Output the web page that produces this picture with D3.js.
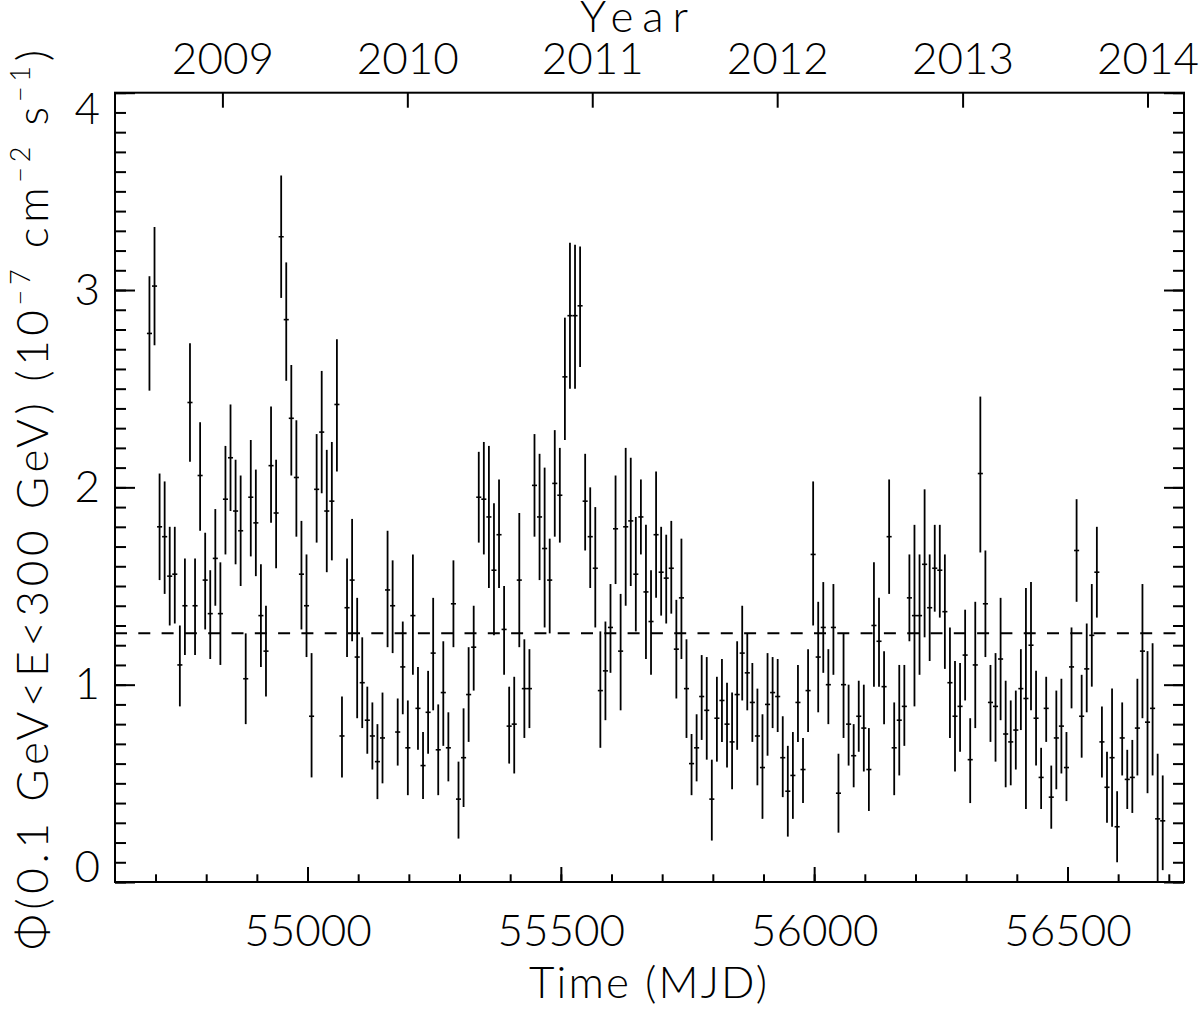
<!DOCTYPE html>
<html>
<head>
<meta charset="utf-8">
<script src="https://cdn.jsdelivr.net/npm/d3@7"></script>
<style>
  body { margin: 0; background: #fff; }
  svg text { font-family: Lato, "Open Sans", sans-serif; font-weight: 300; fill: #000; }
</style>
</head>
<body>
<div id="chart"></div>
<script>
// 10-day bins, bin centres in MJD
const mjd = [
  54688, 54698, 54708, 54718, 54728, 54738, 54748, 54758, 54768, 54778,
  54788, 54798, 54808, 54818, 54828, 54838, 54848, 54858, 54868, 54878,
  54888, 54898, 54908, 54918, 54928, 54938, 54948, 54958, 54968, 54978,
  54988, 54998, 55008, 55018, 55028, 55038, 55048, 55058, 55068, 55078,
  55088, 55098, 55108, 55118, 55128, 55138, 55148, 55158, 55168, 55178,
  55188, 55198, 55208, 55218, 55228, 55238, 55248, 55258, 55268, 55278,
  55288, 55298, 55308, 55318, 55328, 55338, 55348, 55358, 55368, 55378,
  55388, 55398, 55408, 55418, 55428, 55438, 55448, 55458, 55468, 55478,
  55488, 55498, 55508, 55518, 55528, 55538, 55548, 55558, 55568, 55578,
  55588, 55598, 55608, 55618, 55628, 55638, 55648, 55658, 55668, 55678,
  55688, 55698, 55708, 55718, 55728, 55738, 55748, 55758, 55768, 55778,
  55788, 55798, 55808, 55818, 55828, 55838, 55848, 55858, 55868, 55878,
  55888, 55898, 55908, 55918, 55928, 55938, 55948, 55958, 55968, 55978,
  55988, 55998, 56008, 56018, 56028, 56038, 56048, 56058, 56068, 56078,
  56088, 56098, 56108, 56118, 56128, 56138, 56148, 56158, 56168, 56178,
  56188, 56198, 56208, 56218, 56228, 56238, 56248, 56258, 56268, 56278,
  56288, 56298, 56308, 56318, 56328, 56338, 56348, 56358, 56368, 56378,
  56388, 56398, 56408, 56418, 56428, 56438, 56448, 56458, 56468, 56478,
  56488, 56498, 56508, 56518, 56528, 56538, 56548, 56558, 56568, 56578,
  56588, 56598, 56608, 56618, 56628, 56638, 56648, 56658, 56668, 56678,
  56688
];

// photon flux, 1e-7 cm^-2 s^-1
const flux = [
  2.78, 3.02, 1.80, 1.75, 1.55, 1.56, 1.10, 1.40, 2.43, 1.40,
  2.06, 1.53, 1.36, 1.64, 1.36, 1.94, 2.15, 1.88, 1.78, 1.03,
  1.95, 1.82, 1.35, 1.17, 2.11, 1.87, 3.27, 2.85, 2.35, 2.05,
  1.56, 1.40, 0.84, 1.99, 2.28, 1.88, 1.93, 2.42, 0.74, 1.39,
  1.53, 1.14, 1.01, 0.82, 0.74, 0.61, 0.73, 1.48, 1.40, 0.76,
  1.09, 0.68, 1.35, 0.88, 0.59, 0.86, 1.16, 0.67, 0.96, 0.68,
  1.41, 0.42, 0.63, 0.95, 1.19, 1.95, 1.94, 1.85, 1.58, 1.76,
  1.28, 0.79, 0.80, 1.53, 0.98, 0.98, 2.01, 1.85, 1.69, 1.53,
  2.02, 1.96, 2.56, 2.87, 2.87, 2.92, 1.93, 1.75, 1.59, 0.97,
  1.07, 1.29, 1.79, 1.17, 1.80, 1.83, 1.56, 1.85, 1.47, 1.32,
  1.76, 1.57, 1.54, 1.59, 1.18, 1.44, 0.98, 0.60, 0.68, 0.94,
  0.87, 0.42, 0.83, 0.92, 0.80, 0.71, 0.95, 1.16, 1.06, 0.91,
  0.74, 0.58, 0.90, 0.96, 0.94, 0.63, 0.46, 0.54, 0.91, 0.57,
  0.97, 1.66, 1.14, 1.29, 1.00, 1.29, 0.45, 1.00, 0.80, 0.64,
  0.84, 0.78, 0.57, 1.30, 1.22, 0.99, 1.75, 0.68, 0.82, 0.89,
  1.44, 1.35, 1.35, 1.61, 1.39, 1.59, 1.58, 1.37, 1.01, 0.84,
  0.89, 1.15, 0.62, 1.10, 2.07, 1.41, 0.91, 0.89, 1.13, 0.75,
  0.71, 0.77, 0.98, 0.93, 1.20, 0.83, 0.53, 0.88, 0.43, 0.73,
  0.79, 0.58, 1.09, 1.68, 0.84, 1.08, 1.25, 1.57, 0.71, 0.48,
  0.63, 0.28, 0.73, 0.52, 0.53, 0.78, 1.17, 0.81, 0.88, 0.32,
  0.31
];

// lower end of the 1-sigma error bar
const fluxLo = [
  2.49, 2.72, 1.53, 1.46, 1.30, 1.31, 0.89, 1.15, 2.13, 1.15,
  1.78, 1.28, 1.13, 1.40, 1.10, 1.66, 1.88, 1.61, 1.50, 0.80,
  1.65, 1.55, 1.09, 0.94, 1.82, 1.59, 2.96, 2.54, 2.06, 1.75,
  1.28, 1.14, 0.53, 1.72, 1.97, 1.57, 1.63, 2.08, 0.53, 1.14,
  1.22, 0.83, 0.78, 0.65, 0.57, 0.42, 0.50, 1.19, 1.16, 0.59,
  0.85, 0.44, 1.05, 0.67, 0.42, 0.65, 0.87, 0.44, 0.69, 0.51,
  1.19, 0.22, 0.38, 0.71, 0.97, 1.72, 1.66, 1.49, 1.25, 1.49,
  1.05, 0.60, 0.55, 1.19, 0.73, 0.78, 1.75, 1.53, 1.29, 1.26,
  1.75, 1.72, 2.24, 2.50, 2.50, 2.61, 1.68, 1.49, 1.29, 0.68,
  0.82, 1.06, 1.51, 0.87, 1.40, 1.50, 1.27, 1.66, 1.13, 1.05,
  1.44, 1.35, 1.31, 1.36, 0.93, 1.13, 0.73, 0.44, 0.51, 0.72,
  0.62, 0.21, 0.61, 0.71, 0.58, 0.47, 0.67, 0.92, 0.87, 0.71,
  0.49, 0.32, 0.64, 0.78, 0.76, 0.43, 0.23, 0.32, 0.71, 0.40,
  0.76, 1.30, 0.86, 1.06, 0.80, 1.05, 0.25, 0.73, 0.59, 0.48,
  0.66, 0.56, 0.36, 0.99, 0.99, 0.80, 1.46, 0.44, 0.54, 0.69,
  1.22, 0.89, 1.05, 1.24, 1.12, 1.37, 1.34, 1.08, 0.73, 0.56,
  0.66, 0.92, 0.40, 0.78, 1.67, 1.14, 0.71, 0.61, 0.82, 0.48,
  0.49, 0.57, 0.77, 0.37, 0.87, 0.59, 0.37, 0.71, 0.27, 0.47,
  0.55, 0.41, 0.88, 1.42, 0.63, 0.86, 0.99, 1.34, 0.53, 0.30,
  0.28, 0.10, 0.54, 0.37, 0.35, 0.54, 0.83, 0.45, 0.54, -0.01,
  0.06
];

// upper end of the 1-sigma error bar
const fluxHi = [
  3.07, 3.32, 2.07, 2.03, 1.80, 1.80, 1.30, 1.64, 2.73, 1.64,
  2.33, 1.77, 1.58, 1.89, 1.62, 2.21, 2.42, 2.14, 2.06, 1.26,
  2.24, 2.09, 1.61, 1.40, 2.41, 2.14, 3.58, 3.14, 2.62, 2.34,
  1.83, 1.66, 1.16, 2.27, 2.59, 2.19, 2.23, 2.75, 0.94, 1.64,
  1.84, 1.44, 1.24, 0.99, 0.91, 0.80, 0.96, 1.78, 1.63, 0.93,
  1.32, 0.92, 1.66, 1.09, 0.76, 1.07, 1.44, 0.90, 1.22, 0.86,
  1.63, 0.61, 0.88, 1.19, 1.40, 2.18, 2.23, 2.21, 1.92, 2.04,
  1.50, 0.99, 1.04, 1.87, 1.23, 1.18, 2.27, 2.17, 2.10, 1.74,
  2.29, 2.20, 2.86, 3.24, 3.23, 3.22, 2.17, 2.00, 1.90, 1.27,
  1.32, 1.51, 2.06, 1.46, 2.20, 2.15, 1.85, 2.04, 1.81, 1.58,
  2.08, 1.80, 1.76, 1.83, 1.43, 1.74, 1.23, 0.75, 0.85, 1.15,
  1.14, 0.62, 1.04, 1.13, 1.01, 0.96, 1.22, 1.40, 1.26, 1.11,
  0.98, 0.85, 1.16, 1.14, 1.13, 0.84, 0.69, 0.76, 1.10, 0.73,
  1.18, 2.03, 1.42, 1.52, 1.18, 1.51, 0.65, 1.26, 1.00, 0.80,
  1.02, 1.00, 0.78, 1.62, 1.44, 1.17, 2.04, 0.91, 1.10, 1.10,
  1.66, 1.81, 1.66, 1.99, 1.66, 1.81, 1.81, 1.66, 1.29, 1.12,
  1.11, 1.38, 0.83, 1.42, 2.46, 1.68, 1.10, 1.16, 1.44, 1.02,
  0.92, 0.97, 1.18, 1.49, 1.52, 1.07, 0.68, 1.04, 0.59, 0.97,
  1.03, 0.76, 1.29, 1.94, 1.05, 1.31, 1.51, 1.80, 0.89, 0.66,
  0.98, 0.46, 0.91, 0.67, 0.72, 1.03, 1.51, 1.17, 1.21, 0.65,
  0.54
];

const meanFlux = 1.26;        // dashed line, average flux
const binHalfWidth = 5;       // days

const mjdTicks = [55000, 55500, 56000, 56500];
const yearMjd = [54832, 55197, 55562, 55927, 56293, 56658];
const yearLabels = ["2009", "2010", "2011", "2012", "2013", "2014"];
const fluxTicks = [0, 1, 2, 3, 4];

// plot box (top is reserved on window, hence the prefixes)
var plotLeft = 115, plotRight = 1184, plotTop = 92.7, plotBottom = 882;

var svg = d3.select("#chart")
  .append("svg")
    .attr("width", 1200)
    .attr("height", 1012);

var x = d3.scaleLinear()
  .domain([54620, 56730])
  .range([plotLeft, plotRight]);

var y = d3.scaleLinear()
  .domain([0, 4])
  .range([plotBottom, plotTop]);

svg.append("clipPath").attr("id", "plotclip")
  .append("rect")
    .attr("x", plotLeft).attr("y", plotTop)
    .attr("width", plotRight - plotLeft).attr("height", plotBottom - plotTop);

function styleAxis(g) {
  g.select(".domain").remove();
  g.selectAll(".tick line").attr("stroke", "#000").attr("stroke-width", 2);
  g.attr("font-size", 44).attr("font-family", null);
}

// bottom axis: minor + major ticks, MJD labels
svg.append("g")
  .attr("transform", "translate(0," + plotBottom + ")")
  .call(d3.axisBottom(x).tickValues(x.ticks(20)).tickSize(-7.7).tickFormat(""))
  .call(styleAxis);
svg.append("g")
  .attr("transform", "translate(0," + plotBottom + ")")
  .call(d3.axisBottom(x).tickValues(mjdTicks).tickSize(-15).tickPadding(33).tickFormat(d3.format("d")))
  .call(styleAxis);

// top axis: calendar years
svg.append("g")
  .attr("transform", "translate(0," + plotTop + ")")
  .call(d3.axisTop(x).tickValues(yearMjd).tickSize(-15).tickPadding(19)
    .tickFormat(function(d, i) { return yearLabels[i]; }))
  .call(styleAxis);

// left axis
svg.append("g")
  .attr("transform", "translate(" + plotLeft + ",0)")
  .call(d3.axisLeft(y).tickValues(y.ticks(40)).tickSize(-11).tickFormat(""))
  .call(styleAxis);
var yLeft = svg.append("g")
  .attr("transform", "translate(" + plotLeft + ",0)")
  .call(d3.axisLeft(y).tickValues(fluxTicks).tickSize(-20).tickPadding(15).tickFormat(d3.format("d")))
  .call(styleAxis);
// first and last labels are pushed inside the frame
yLeft.selectAll(".tick text")
  .attr("dy", function(d) { return d === 0 ? "-0.02em" : d === 4 ? "0.7em" : "0.32em"; });

// right axis, no labels
svg.append("g")
  .attr("transform", "translate(" + plotRight + ",0)")
  .call(d3.axisRight(y).tickValues(y.ticks(40)).tickSize(-11).tickFormat(""))
  .call(styleAxis);
svg.append("g")
  .attr("transform", "translate(" + plotRight + ",0)")
  .call(d3.axisRight(y).tickValues(fluxTicks).tickSize(-20).tickFormat(""))
  .call(styleAxis);

// frame
svg.append("rect")
  .attr("x", plotLeft).attr("y", plotTop)
  .attr("width", plotRight - plotLeft).attr("height", plotBottom - plotTop)
  .attr("fill", "none")
  .attr("stroke", "#000")
  .attr("stroke-width", 2);

// mean flux
svg.append("line")
  .attr("x1", plotLeft).attr("x2", plotRight)
  .attr("y1", y(meanFlux)).attr("y2", y(meanFlux))
  .attr("stroke", "#000")
  .attr("stroke-width", 2)
  .attr("stroke-dasharray", "12,11.3");

// error bars
var pts = svg.append("g").attr("clip-path", "url(#plotclip)")
  .selectAll("g.pt")
  .data(d3.range(mjd.length))
  .enter()
  .append("g").attr("class", "pt");

pts.append("line")
  .attr("x1", function(i) { return x(mjd[i]); })
  .attr("x2", function(i) { return x(mjd[i]); })
  .attr("y1", function(i) { return y(fluxLo[i]); })
  .attr("y2", function(i) { return y(fluxHi[i]); })
  .attr("stroke", "#000")
  .attr("stroke-width", 1.8);

pts.append("line")
  .attr("x1", function(i) { return x(mjd[i] - binHalfWidth); })
  .attr("x2", function(i) { return x(mjd[i] + binHalfWidth); })
  .attr("y1", function(i) { return y(flux[i]); })
  .attr("y2", function(i) { return y(flux[i]); })
  .attr("stroke", "#000")
  .attr("stroke-width", 1.6);

// axis titles
svg.append("text")
  .attr("x", 648).attr("y", 998)
  .attr("text-anchor", "middle")
  .attr("font-size", 44)
  .attr("textLength", 238)
  .text("Time (MJD)");

svg.append("text")
  .attr("x", 634).attr("y", 32)
  .attr("text-anchor", "middle")
  .attr("font-size", 44)
  .attr("textLength", 108)
  .text("Year");

var yt = svg.append("text")
  .attr("transform", "translate(48,500) rotate(-90)")
  .attr("text-anchor", "middle")
  .attr("font-size", 44)
  .attr("textLength", 900);
yt.append("tspan").text("Φ(0.1 GeV<E<300 GeV)  (10");
yt.append("tspan").attr("font-size", 27).attr("dy", -18).text("−7");
yt.append("tspan").attr("dy", 18).text(" cm");
yt.append("tspan").attr("font-size", 27).attr("dy", -18).text("−2");
yt.append("tspan").attr("dy", 18).text(" s");
yt.append("tspan").attr("font-size", 27).attr("dy", -18).text("−1");
yt.append("tspan").attr("dy", 18).text(")");
</script>
</body>
</html>
